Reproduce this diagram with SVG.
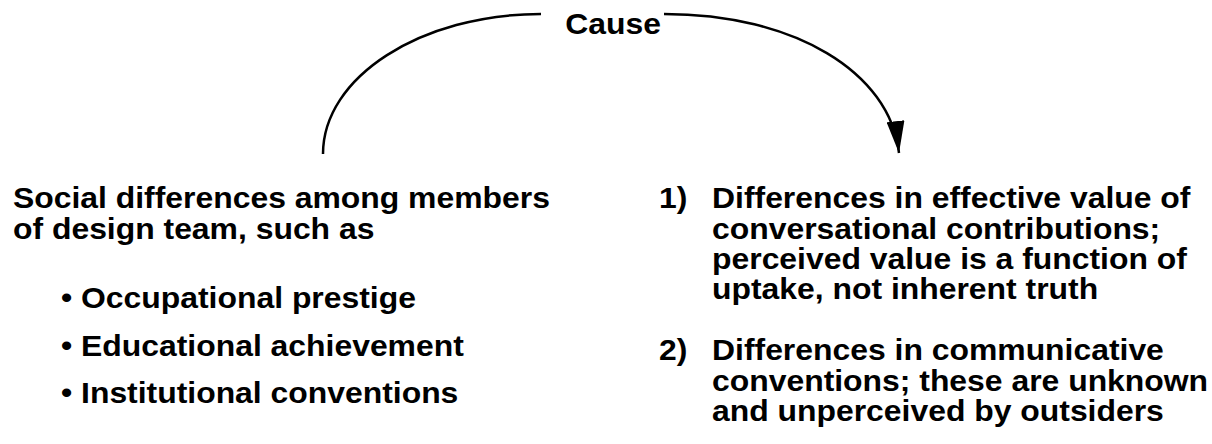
<svg xmlns="http://www.w3.org/2000/svg" width="1212" height="444" viewBox="0 0 1212 444">
<style>
text{font-family:"Liberation Sans",Arial,sans-serif;font-weight:bold;font-size:29px;fill:#000}
.c{fill:none;stroke:#000;stroke-width:2.5}
</style>
<defs>
<marker id="ah" markerWidth="32" markerHeight="18" refX="32" refY="9" orient="auto" markerUnits="userSpaceOnUse" viewBox="0 0 32 18"><path d="M0,0 L32,9 L0,18 Z" fill="#000"/></marker>
</defs>
<g id="connectors">
<path class="c" d="M323,154 C323,77 421,14 541,14"/>
<path class="c" d="M664,14 C794,14 890,72 899,153" marker-end="url(#ah)"/>
</g>
<g id="cause" transform="scale(1.1,1)"><text x="557.3" y="34" text-anchor="middle">Cause</text></g>
<g id="left" transform="scale(1.1,1)">
<text x="11.8" y="208">Social differences among members</text>
<text x="11.8" y="239">of design team, such as</text>
<text x="55.5" y="308">• Occupational prestige</text>
<text x="55.5" y="356">• Educational achievement</text>
<text x="55.5" y="403">• Institutional conventions</text>
</g>
<g id="right" transform="scale(1.1,1)">
<text x="599.1" y="208">1)</text>
<text x="647.3" y="208">Differences in effective value of</text>
<text x="647.3" y="239">conversational contributions;</text>
<text x="647.3" y="269">perceived value is a function of</text>
<text x="647.3" y="299">uptake, not inherent truth</text>
<text x="599.1" y="360">2)</text>
<text x="647.3" y="360">Differences in communicative</text>
<text x="647.3" y="391">conventions; these are unknown</text>
<text x="647.3" y="421">and unperceived by outsiders</text>
</g>
</svg>
